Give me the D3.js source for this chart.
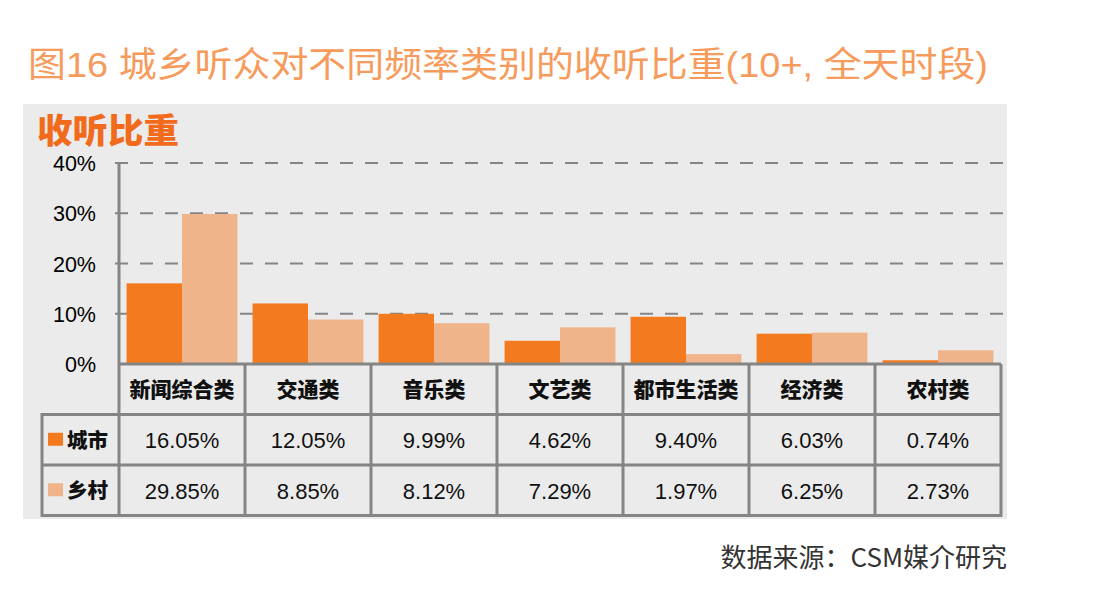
<!DOCTYPE html>
<html><head><meta charset="utf-8">
<script src="https://cdn.jsdelivr.net/npm/d3@7/dist/d3.min.js"></script>
<style>
html,body{margin:0;padding:0;background:#fff;}
svg{display:block;}
text{font-family:"Liberation Sans","Noto Sans CJK SC",sans-serif;}
</style></head>
<body>
<svg id="chart" width="1096" height="596"></svg>
<script>
const titleText = "图16 城乡听众对不同频率类别的收听比重(10+, 全天时段)";
const yTitle = "收听比重";
const sourceText = "数据来源：CSM媒介研究";
const categories = ["新闻综合类","交通类","音乐类","文艺类","都市生活类","经济类","农村类"];
const seriesNames = ["城市","乡村"];
const cityValues = [16.05,12.05,9.99,4.62,9.40,6.03,0.74];
const ruralValues = [29.85,8.85,8.12,7.29,1.97,6.25,2.73];
const yTicks = [0,10,20,30,40];
const colors = ["#f47a20","#f0b48b"];

const svg = d3.select("#chart");
const axisX = 119, right = 1001, y0 = 364, yTop = 163;
const rowH = 50.5;
const tableLeft = 42;

// panel
svg.append("rect").attr("x",23).attr("y",104).attr("width",984).attr("height",415).attr("fill","#ebebeb");

// title
svg.append("text").attr("x",28).attr("y",77).attr("font-size",35)
  .attr("fill","#f79b5c").attr("textLength",960).attr("lengthAdjust","spacingAndGlyphs")
  .style("font-family","'Liberation Sans','Noto Sans CJK SC',sans-serif")
  .text(titleText);

svg.append("text").attr("x",37).attr("y",143).attr("font-size",34).attr("font-weight",900)
  .attr("fill","#f26b1d").attr("textLength",142).attr("lengthAdjust","spacingAndGlyphs")
  .style("font-family","'Noto Sans CJK SC',sans-serif").text(yTitle);

const y = d3.scaleLinear().domain([0,40]).range([y0,yTop]);
const xCol = d3.scaleBand().domain(categories).range([axisX,right]).padding(0);
const x0 = d3.scaleBand().domain(categories).range([axisX,right]).paddingInner(0.12).paddingOuter(0.06);
const x1 = d3.scaleBand().domain(seriesNames).range([0,x0.bandwidth()]);

// gridlines
svg.append("g").selectAll("line").data(yTicks.filter(d=>d>0)).join("line")
  .attr("x1",axisX-4).attr("x2",1007).attr("y1",d=>y(d)).attr("y2",d=>y(d))
  .attr("stroke","#858585").attr("stroke-width",2).attr("stroke-dasharray","13,12");

// y tick labels
svg.append("g").selectAll("text").data(yTicks).join("text")
  .attr("x",96).attr("y",d=>y(d)+8).attr("text-anchor","end").attr("font-size",21.5)
  .attr("fill","#000").text(d=>d+"%");

// bars
const data = categories.map((c,i)=>({cat:c, vals:[cityValues[i], ruralValues[i]]}));
const g = svg.append("g").selectAll("g").data(data).join("g")
  .attr("transform",d=>`translate(${x0(d.cat)},0)`);
g.selectAll("rect").data(d=>d.vals.map((v,j)=>({s:seriesNames[j],v,j}))).join("rect")
  .attr("x",d=>x1(d.s)).attr("width",x1.bandwidth())
  .attr("y",d=>y(d.v)).attr("height",d=>y0-y(d.v))
  .attr("fill",d=>colors[d.j]);

// table lines
const lineColor = "#858585", lw = 3;
const tl = svg.append("g").attr("stroke",lineColor).attr("stroke-width",lw).attr("fill","none");
const rows = [y0, y0+rowH, y0+2*rowH, y0+3*rowH];
tl.append("line").attr("x1",axisX).attr("x2",right).attr("y1",rows[0]).attr("y2",rows[0]);
rows.slice(1).forEach(r=>tl.append("line").attr("x1",tableLeft).attr("x2",right).attr("y1",r).attr("y2",r));
tl.append("line").attr("x1",axisX).attr("x2",axisX).attr("y1",yTop).attr("y2",rows[3]+1.5);
tl.append("line").attr("x1",tableLeft).attr("x2",tableLeft).attr("y1",rows[1]-1.5).attr("y2",rows[3]+1.5);
categories.forEach(c=>{
  const xr = xCol(c)+xCol.bandwidth();
  tl.append("line").attr("x1",xr).attr("x2",xr).attr("y1",rows[0]).attr("y2",rows[3]+1.5);
});

// category labels
svg.append("g").selectAll("text").data(categories).join("text")
  .attr("x",d=>xCol(d)+xCol.bandwidth()/2).attr("y",rows[0]+rowH/2+8)
  .attr("text-anchor","middle").attr("font-size",21).attr("font-weight",900)
  .style("font-family","'Noto Sans CJK SC',sans-serif").attr("fill","#111").text(d=>d);

// value rows
[cityValues, ruralValues].forEach((vals,j)=>{
  const ry = rows[1+j];
  svg.append("rect").attr("x",48).attr("y",ry+rowH/2-7).attr("width",15).attr("height",13).attr("fill",colors[j]);
  svg.append("text").attr("x",67).attr("y",ry+rowH/2+8).attr("font-size",20.5).attr("font-weight",900)
    .style("font-family","'Noto Sans CJK SC',sans-serif").attr("fill","#111").text(seriesNames[j]);
  svg.append("g").selectAll("text").data(vals).join("text")
    .attr("x",(d,i)=>xCol(categories[i])+xCol.bandwidth()/2).attr("y",ry+rowH/2+8.5)
    .attr("text-anchor","middle").attr("font-size",22).attr("fill","#111")
    .text(d=>d.toFixed(2)+"%");
});

// source
svg.append("text").attr("x",1007).attr("y",567).attr("text-anchor","end").attr("font-size",26)
  .attr("fill","#333").style("font-family","'Noto Sans CJK SC','Liberation Sans',sans-serif").text(sourceText);
</script>
</body></html>
